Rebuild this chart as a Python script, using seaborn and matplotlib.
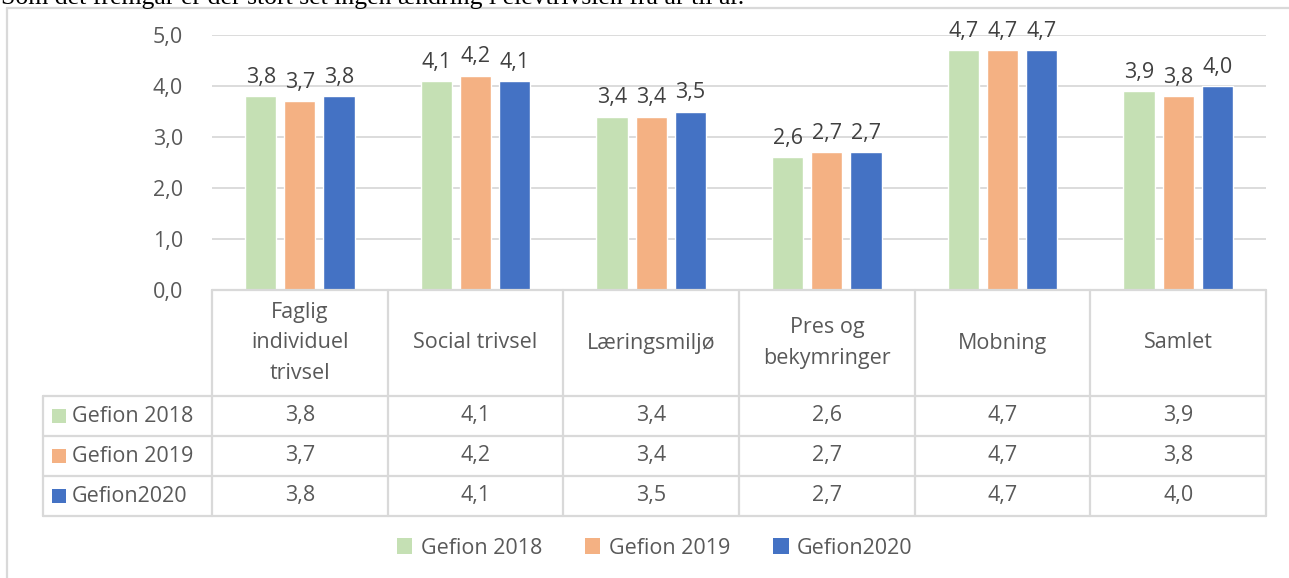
import matplotlib
matplotlib.use("Agg")
import matplotlib.pyplot as plt
import matplotlib.transforms as mtransforms
from matplotlib.patches import Rectangle
from matplotlib.lines import Line2D
import seaborn as sns
import pandas as pd

categories = ["Faglig\nindividuel\ntrivsel", "Social trivsel", "Læringsmiljø",
              "Pres og\nbekymringer", "Mobning", "Samlet"]
series = ["Gefion 2018", "Gefion 2019", "Gefion2020"]
v2018 = [3.8, 4.1, 3.4, 2.6, 4.7, 3.9]
v2019 = [3.7, 4.2, 3.4, 2.7, 4.7, 3.8]
v2020 = [3.8, 4.1, 3.5, 2.7, 4.7, 4.0]
yticks = [0, 1, 2, 3, 4, 5]
title_text = "Som det fremgår er der stort set ingen ændring i elevtrivslen fra år til år."

colors = ["#C5E0B4", "#F4B183", "#4472C4"]
txt = "#595959"
grid = "#D9D9D9"
FONT = "Open Sans"
FS = 15.5

sns.set_theme(style="white")
plt.rcParams["font.family"] = [FONT, "DejaVu Sans"]

values = [v2018, v2019, v2020]
df = pd.DataFrame({
    "cat": [c for _ in series for c in categories],
    "series": [s for s in series for _ in categories],
    "val": [v for vals in values for v in vals],
})

W, H = 1289, 578
fig = plt.figure(figsize=(W / 100, H / 100), dpi=100)
ax_l, ax_r, ax_t, ax_b = 212, 1266, 35, 290
ax = fig.add_axes([ax_l / W, 1 - ax_b / H, (ax_r - ax_l) / W, (ax_b - ax_t) / H])

sns.barplot(data=df, x="cat", y="val", hue="series", order=categories,
            hue_order=series, palette=colors, width=0.667, gap=0.2,
            saturation=1, ax=ax, legend=False)

ax.set_ylim(0, 5)
ax.set_xlim(-0.5, len(categories) - 0.5)
ax.set_yticks(yticks)
ax.set_yticklabels([f"{t:.1f}".replace(".", ",") for t in yticks],
                   fontsize=FS, color=txt)
ax.tick_params(axis="y", length=0, pad=21)
ax.set_xticks([])
ax.set_xlabel("")
ax.set_ylabel("")
for s in ax.spines.values():
    s.set_visible(False)
for t in yticks[1:]:
    ax.axhline(t, color=grid, lw=1.3, zorder=0)

for cont in ax.containers:
    ax.bar_label(cont, labels=[f"{v:.1f}".replace(".", ",") for v in cont.datavalues],
                 fontsize=FS, color="#404040", padding=6)

# data table below the plot
tr = mtransforms.blended_transform_factory(ax.transData, ax.transAxes)
ah = ax_b - ax_t
colw = (ax_r - ax_l) / len(categories)
y_head = -(396 - ax_b) / ah
row_edges = [y_head] + [-(396 + 40 * (i + 1) - ax_b) / ah for i in range(len(series))]
x_left = -0.5 - (ax_l - 43) / colw
x_right = len(categories) - 0.5
lkw = dict(color=grid, lw=1.6, transform=tr, clip_on=False, zorder=3)

ax.add_line(Line2D([-0.5, x_right], [0, 0], **lkw))
for y in row_edges:
    ax.add_line(Line2D([x_left, x_right], [y, y], **lkw))
for i in range(len(categories) + 1):
    x = i - 0.5
    ax.add_line(Line2D([x, x], [0, row_edges[-1]], **lkw))
ax.add_line(Line2D([x_left, x_left], [y_head, row_edges[-1]], **lkw))

for i, c in enumerate(categories):
    ax.text(i, y_head / 2, c, transform=tr, ha="center", va="center",
            fontsize=FS, color=txt, linespacing=1.6)
for r, (s, vals, col) in enumerate(zip(series, values, colors)):
    yc = (row_edges[r] + row_edges[r + 1]) / 2
    for i, v in enumerate(vals):
        ax.text(i, yc, f"{v:.1f}".replace(".", ","), transform=tr, ha="center",
                va="center", fontsize=FS, color=txt)
    sq = 14 / colw
    ax.add_patch(Rectangle((x_left + 9 / colw, yc - 7 / ah), sq, 14 / ah,
                           facecolor=col, edgecolor="none", transform=tr,
                           clip_on=False))
    ax.text(x_left + 29 / colw, yc, s, transform=tr, ha="left", va="center",
            fontsize=FS, color=txt)

# legend
handles = [Rectangle((0, 0), 1, 1, facecolor=c, edgecolor="none") for c in colors]
fig.legend(handles, series, loc="center", bbox_to_anchor=(655 / W, 1 - 548 / H),
           ncol=3, frameon=False, fontsize=FS, labelcolor=txt,
           handlelength=0.7, handleheight=0.7, handletextpad=0.4,
           columnspacing=2.0)

# chart frame (left and top edges) and clipped text above
fig.add_artist(Line2D([7 / W, 7 / W], [0, 1 - 8 / H], color=grid, lw=1.6,
                      transform=fig.transFigure))
fig.add_artist(Line2D([7 / W, 1], [1 - 8 / H, 1 - 8 / H], color=grid, lw=1.6,
                      transform=fig.transFigure))
fig.text(1 / W, 1 - 4 / H, title_text, family=["Liberation Serif", "DejaVu Serif"],
         fontsize=18.5, color="black", ha="left", va="baseline")

fig.savefig("out.png", dpi=100, facecolor="white")
